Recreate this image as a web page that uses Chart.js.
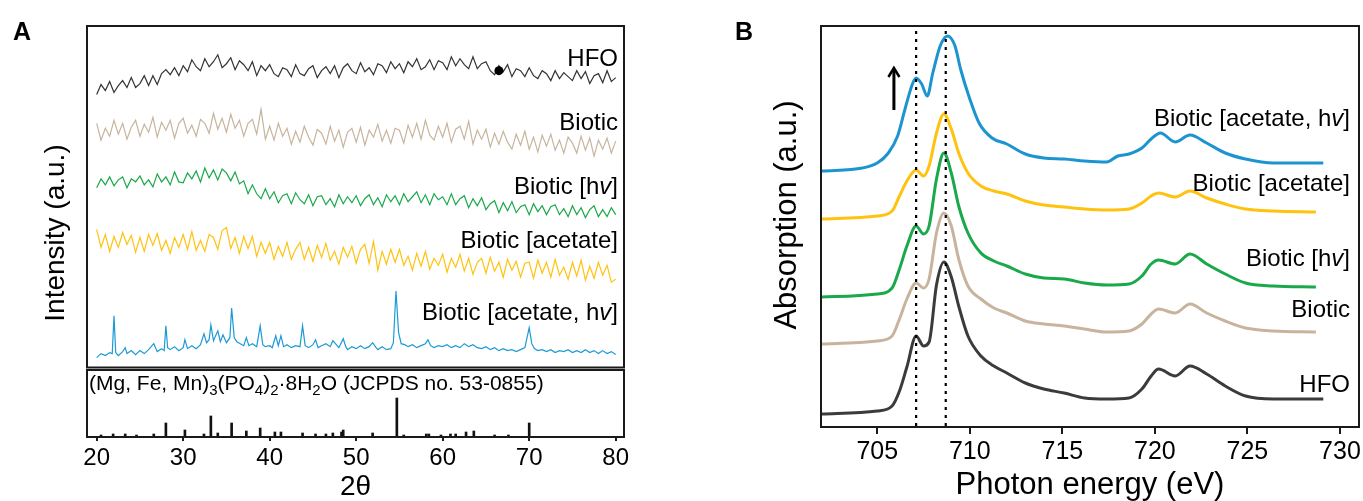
<!DOCTYPE html>
<html><head><meta charset="utf-8">
<script src="https://cdn.jsdelivr.net/npm/chart.js@4.4.1/dist/chart.umd.min.js"></script>
<style>
html,body{margin:0;padding:0;background:#fff;}
body{width:1363px;height:501px;position:relative;overflow:hidden;}
canvas{position:absolute;display:block;}
</style></head><body>
<canvas id="ca" width="640" height="372" style="left:0;top:0"></canvas>
<canvas id="cl" width="640" height="133" style="left:0;top:368px"></canvas>
<canvas id="cb" width="683" height="501" style="left:680px;top:0"></canvas>
<script>
// ---------- Panel A data (XRD) ----------
const twoTheta = [20,20.5,21,21.5,22,22.5,23,23.5,24,24.5,25,25.5,26,26.5,27,27.5,28,28.5,29,29.5,30,30.5,31,31.5,32,32.5,33,33.5,34,34.5,35,35.5,36,36.5,37,37.5,38,38.5,39,39.5,40,40.5,41,41.5,42,42.5,43,43.5,44,44.5,45,45.5,46,46.5,47,47.5,48,48.5,49,49.5,50,50.5,51,51.5,52,52.5,53,53.5,54,54.5,55,55.5,56,56.5,57,57.5,58,58.5,59,59.5,60,60.5,61,61.5,62,62.5,63,63.5,64,64.5,65,65.5,66,66.5,67,67.5,68,68.5,69,69.5,70,70.5,71,71.5,72,72.5,73,73.5,74,74.5,75,75.5,76,76.5,77,77.5,78,78.5,79,79.5,80];
const xrdHFO = [275,285,279,288,277,284,289,282,292,282, 286,294,284,294,285,296,300,295,302,294, 304,298,310,303,299,311,303,308,315,302, 306,312,300,309,305,299,308,294,304,299, 305,296,293,302,300,293,305,296,294,301, 304,292,299,303,296,304,292,302,306,299, 296,307,298,302,295,306,304,297,308,301, 306,297,308,303,311,300,303,310,300,309, 307,300,313,304,311,305,301,313,301,306, 308,299,295,304,298,305,293,301,299,293, 302,294,291,299,296,289,299,291,297,293, 289,299,291,298,286,294,296,287,299,288, 292];
const xrdBiotic = [246,229,241,233,249,235,246,230,242,249, 233,245,237,252,232,247,239,249,231,246, 251,236,244,233,250,246,236,256,240,251, 237,255,241,249,233,246,250,235,260,230, 243,229,246,233,241,225,238,227,243,232, 224,240,236,225,243,228,239,222,237,241, 227,242,224,239,232,245,228,239,226,241, 239,226,244,232,246,230,249,234,229,243, 232,246,227,240,243,230,248,225,239,230, 240,222,236,225,238,227,220,235,224,238, 220,232,217,234,223,235,219,229,216,232, 226,216,233,219,231,213,229,220,231,216, 228];
const xrdBioticHv = [181,190,184,192,183,189,192,181,190,187, 193,184,189,182,195,187,192,184,197,187, 186,196,190,198,187,201,191,199,189,200, 196,188,197,185,188,175,184,175,170,180, 170,177,166,173,175,165,176,169,165,174, 163,172,173,164,170,162,174,165,172,166, 173,163,170,174,164,171,162,174,167,173, 164,175,167,172,177,166,174,164,175,169, 172,164,175,164,170,173,161,170,163,171, 159,165,168,156,166,158,167,156,162,164, 154,165,157,163,154,162,164,154,160,152, 163,154,161,151,159,163,152,159,152,161, 154];
const xrdBioticAcetate = [139,121,134,117,132,121,136,124,133,116, 131,117,134,123,135,118,128,115,131,121, 134,119,137,118,128,117,134,131,119,138, 141,120,131,115,132,120,132,112,126,115, 126,109,122,112,126,109,119,126,109,121, 107,123,111,125,108,117,104,121,111,122, 105,119,124,105,127,98,117,104,119,106, 119,103,112,98,115,102,117,99,110,103, 114,96,110,101,114,97,110,94,106,110, 95,111,97,106,91,109,98,107,91,105, 106,90,108,95,106,91,109,93,101,89, 106,92,108,88,102,90,106,93,103,86, 89];
const blueTheta = [20,20.5,21,21.5,21.8,22,22.2,22.5,23,23.3,23.5,24,24.5,25,25.5,26,26.6,27,27.5,27.8,28,28.2,28.5,29,29.5,30,30.2,30.5,31,31.5,32,32.4,32.7,33,33.2,33.5,34,34.3,34.6,35,35.4,35.6,35.9,36.2,36.6,37,37.3,37.6,38,38.5,38.9,39.2,39.5,40,40.3,40.7,41,41.3,41.6,42,42.5,43,43.5,43.8,44.1,44.5,45,45.3,45.6,46,46.5,47,47.3,47.7,48,48.5,48.8,49,49.5,50,50.5,51,51.5,51.9,52.3,52.5,53,53.5,54,54.3,54.6,54.9,55.2,55.6,56,56.5,57,57.5,58,58.3,58.6,59,59.5,60,60.5,61,61.5,62,62.5,63,63.5,64,64.5,65,65.5,66,66.5,67,67.5,68,68.5,69,69.5,70,70.3,70.6,71,71.5,72,72.5,73,73.5,74,74.5,75,75.5,76,76.5,77,77.5,78,78.5,79,79.5,80];
const xrdBioticAcetateHv = [10,14,12,15,14,52,15,12,16,20,14,17,13,17,14,18,24,16,19,17,42,20,18,21,17,20,28,19,22,19,23,34,25,28,43,27,37,26,33,25,30,60,30,26,24,22,30,22,24,21,42,23,21,22,20,32,22,32,21,23,20,22,21,42,22,20,23,28,20,22,24,21,27,23,20,29,21,18,21,19,22,19,21,25,20,18,21,18,19,25,77,35,24,23,21,23,20,22,24,28,22,20,22,21,23,20,22,20,24,21,23,20,19,21,18,20,17,19,17,18,16,18,20,40,24,19,17,18,16,18,15,17,16,18,15,17,15,18,15,17,14,17,14,16,13];
const hfoMarkerTheta = [66.5];
const hfoMarkerValue = [299];
const refPeaks = [20.5,21.9,23.3,24.6,26.6,28.0,30.2,32.4,33.2,34.0,35.6,37.3,38.9,40.6,41.3,43.8,45.3,46.5,47.3,48.3,48.5,51.9,54.7,55.5,58.1,58.4,59.8,60.9,61.5,62.7,63.6,66.0,67.6,70.0];
const refHeights = [2,3,3,2,3,14,7,3,21,4,14,6,9,5,5,4,3,3,4,5,7,4,39,2,3,3,2,3,3,5,6,2,2,14];
const xTicksA = [20,30,40,50,60,70,80];
const seriesNames = ['HFO','Biotic','Biotic [hv]','Biotic [acetate]','Biotic [acetate, hv]'];

// ---------- Panel B data (XAS) ----------
const eGrid = [702.0,705.0,705.8,706.2,706.6,707.1,707.5,707.8,708.2,708.6,709.0,709.4,709.9,710.6,711.3,712.0,713.0,714.0,715.1,716.2,717.4,718.6,719.3,719.8,720.2,721.1,721.9,722.8,723.8,724.9,726.4];
const lastE = [729.1,728.7,728.7,728.7];
const xasHFO = [13,16,21,36,60,91,81,85,142,165,150,121,91,71,61,54,44,38,34,29,28,29,38,51,58,51,61,53,41,31,28,28];
const xasBiotic = [83,86,91,108,128,144,139,148,194,214,201,168,141,128,119,114,106,103,101,98,95,96,103,113,118,114,123,114,106,99,96,95];
const xasBioticHv = [130,133,139,158,181,201,193,201,248,274,254,221,194,174,166,161,153,149,148,144,142,143,151,163,167,163,173,163,153,144,141,140];
const xasBioticAcetate = [208,211,216,231,246,257,251,261,294,313,298,274,254,241,236,233,226,222,220,218,217,218,224,231,234,230,236,229,223,218,216,215];
const eBlue = [702.0,704.2,705.0,705.6,706.1,706.5,706.9,707.1,707.4,707.7,708.0,708.4,708.8,709.2,709.5,710.0,710.5,711.2,712.0,713.0,714.0,715.1,716.2,717.4,718.0,718.6,719.3,719.8,720.3,721.1,721.9,722.8,723.8,724.9,726.4,729.1];
const xasBioticAcetateHv = [256,259,264,274,291,318,343,349,343,331,354,381,391,381,358,328,304,289,283,273,269,268,266,265,271,273,279,288,294,285,292,284,274,268,264,264];
const dottedE = [707.1, 708.7];
const xTicksB = [705,710,715,720,725,730];

// ---------- styling ----------
const FONT = "'Liberation Sans', Arial, Helvetica, sans-serif";
Chart.defaults.font.family = FONT;
Chart.defaults.color = '#000';
const colA = ['#333333','#c8b49d','#19a84a','#ffc30f','#1c9ad6'];
const colB = ['#3b3b3b','#c8b49d','#19a84a','#ffc30f','#1c94d0'];
const FRAME = '#1a1a1a';

function pts(xs, ys){ return xs.map((x,i)=>({x:x, y:ys[i]})); }

function drawName(ctx, name, right, cy, size){
  const parts = [];
  const idx = name.indexOf('hv');
  if (idx >= 0){ parts.push([name.slice(0, idx+1), false]); parts.push(['v', true]); parts.push([name.slice(idx+2), false]); }
  else parts.push([name, false]);
  let total = 0;
  const widths = parts.map(p => { ctx.font = (p[1]?'italic ':'') + size + 'px ' + FONT; const w = ctx.measureText(p[0]).width; total += w; return w; });
  let x = right - total;
  ctx.textAlign = 'left'; ctx.textBaseline = 'alphabetic'; ctx.fillStyle = '#000';
  const base = cy + size*0.358;
  parts.forEach((p,i) => { ctx.font = (p[1]?'italic ':'') + size + 'px ' + FONT; ctx.fillText(p[0], x, base); x += widths[i]; });
}
function frame(chart){
  const a = chart.chartArea, ctx = chart.ctx;
  ctx.save(); ctx.strokeStyle = FRAME; ctx.lineWidth = 2;
  ctx.strokeRect(a.left, a.top, a.right - a.left, a.bottom - a.top);
  ctx.restore();
}
function vTitle(ctx, text, cx, cy, size){
  ctx.save(); ctx.translate(cx, cy); ctx.rotate(-Math.PI/2);
  ctx.font = size + 'px ' + FONT; ctx.fillStyle = '#000'; ctx.textAlign = 'center'; ctx.textBaseline = 'middle';
  ctx.fillText(text, 0, 0); ctx.restore();
}
function fixedAxis(h){ return function(scale){ scale.height = h; scale.paddingLeft = 0; scale.paddingRight = 0; }; }

// ---------- Panel A upper ----------
const labelYA = [57,121,185,239,311];
const decorA = { id:'decorA', afterDraw(chart){
  const ctx = chart.ctx; frame(chart);
  ctx.save();
  seriesNames.forEach((n,i) => drawName(ctx, n, 618, labelYA[i], 24));
  vTitle(ctx, 'Intensity (a.u.)', 56, 233, 28);
  ctx.font = 'bold 25px ' + FONT; ctx.fillStyle='#000'; ctx.textAlign='left'; ctx.textBaseline='alphabetic'; ctx.fillText('A', 13, 40);
  ctx.restore();
}};
const xrdSeries = [xrdHFO, xrdBiotic, xrdBioticHv, xrdBioticAcetate];
const dsA = xrdSeries.map((s,i) => ({ label: seriesNames[i], data: pts(twoTheta, s), borderColor: colA[i], borderWidth: 1.2, pointRadius: 0, tension: 0 }));
dsA.push({ label: seriesNames[4], data: pts(blueTheta, xrdBioticAcetateHv), borderColor: colA[4], borderWidth: 1.2, pointRadius: 0, tension: 0 });
dsA.unshift({ label: 'HFO marker', data: pts(hfoMarkerTheta, hfoMarkerValue), showLine: false, pointRadius: 4.5, pointBackgroundColor: '#000', pointBorderWidth: 0 });
new Chart(document.getElementById('ca'), {
  type: 'line',
  data: { datasets: dsA },
  options: {
    responsive: false, animation: false, events: [],
    layout: { padding: { left: 87, top: 26, right: 16, bottom: 2 } },
    plugins: { legend: { display: false }, tooltip: { enabled: false } },
    scales: { x: { type: 'linear', display: false, min: 18.88, max: 80.96 }, y: { display: false, min: 0, max: 344 } }
  },
  plugins: [decorA]
});

// ---------- Panel A lower (reference pattern) ----------
const decorL = { id:'decorL', afterDraw(chart){
  const ctx = chart.ctx; frame(chart);
  ctx.save(); ctx.fillStyle = '#000'; ctx.textAlign='left'; ctx.textBaseline='alphabetic';
  const big = '21px ' + FONT, small = '15px ' + FONT;
  const segs = [['(Mg, Fe, Mn)',0],['3',1],['(PO',0],['4',1],[')',0],['2',1],['\u00b78H',0],['2',1],['O (JCPDS no. 53-0855)',0]];
  let x = 89; const base = 22;
  segs.forEach(s => { ctx.font = s[1] ? small : big; ctx.fillText(s[0], x, base + (s[1] ? 5 : 0)); x += ctx.measureText(s[0]).width; });
  ctx.restore();
}};
new Chart(document.getElementById('cl'), {
  type: 'bar',
  data: { datasets: [{ label: 'JCPDS 53-0855', data: pts(refPeaks, refHeights), backgroundColor: '#111', borderWidth: 0, barThickness: 2 }] },
  options: {
    responsive: false, animation: false, events: [],
    layout: { padding: { left: 87, top: 2, right: 16, bottom: 0 } },
    plugins: { legend: { display: false }, tooltip: { enabled: false } },
    scales: {
      x: { type: 'linear', min: 18.88, max: 80.96, offset: false,
           afterBuildTicks: s => { s.ticks = xTicksA.map(v => ({ value: v })); },
           afterFit: fixedAxis(64),
           grid: { display: true, offset: false, drawOnChartArea: false, drawTicks: true, tickLength: 4, color: FRAME, lineWidth: 2 },
           border: { display: false },
           ticks: { autoSkip: false, maxRotation: 0, padding: 3, color: '#000', font: { size: 24 } },
           title: { display: true, text: '2\u03b8', color: '#000', font: { size: 28, lineHeight: 1 }, padding: { top: 0, bottom: 0 } } },
      y: { display: false, min: 0, max: 67 }
    }
  },
  plugins: [decorL]
});

// ---------- Panel B ----------
const labelOrderB = [4,3,2,1,0];
const labelYB = [117,182,257,308,383];
const decorB = { id:'decorB', afterDraw(chart){
  const ctx = chart.ctx; frame(chart);
  ctx.save();
  labelOrderB.forEach((si,k) => drawName(ctx, seriesNames[si], 670, labelYB[k], 24));
  vTitle(ctx, 'Absorption (a.u.)', 107, 215, 31);
  ctx.font = 'bold 25px ' + FONT; ctx.fillStyle='#000'; ctx.textAlign='left'; ctx.textBaseline='alphabetic'; ctx.fillText('B', 55, 40);
  const xs = chart.scales.x, ys = chart.scales.y;
  const ax = xs.getPixelForValue(705.9), y1 = ys.getPixelForValue(317), y2 = ys.getPixelForValue(359);
  ctx.strokeStyle = '#000'; ctx.lineWidth = 3; ctx.lineCap = 'butt';
  ctx.beginPath(); ctx.moveTo(ax, y1); ctx.lineTo(ax, y2 + 1); ctx.stroke();
  ctx.lineWidth = 2.5; ctx.lineJoin = 'miter';
  ctx.beginPath(); ctx.moveTo(ax - 5.5, y2 + 9); ctx.lineTo(ax, y2); ctx.lineTo(ax + 5.5, y2 + 9); ctx.stroke();
  ctx.restore();
}};
const xasSeries = [xasHFO, xasBiotic, xasBioticHv, xasBioticAcetate];
const dsB = [];
dottedE.forEach(e => dsB.push({ label: 'ref ' + e, data: [{x:e, y:1}, {x:e, y:400}], borderColor: '#000', borderWidth: 2.2, borderDash: [3,5], pointRadius: 0 }));
xasSeries.forEach((s,i) => dsB.push({ label: seriesNames[i], data: pts(eGrid.concat([lastE[i]]), s), borderColor: colB[i], borderWidth: 3, pointRadius: 0, cubicInterpolationMode: 'monotone' }));
dsB.push({ label: seriesNames[4], data: pts(eBlue, xasBioticAcetateHv), borderColor: colB[4], borderWidth: 3, pointRadius: 0, cubicInterpolationMode: 'monotone' });
new Chart(document.getElementById('cb'), {
  type: 'line',
  data: { datasets: dsB },
  options: {
    responsive: false, animation: false, events: [],
    layout: { padding: { left: 141, top: 26, right: 4, bottom: 0 } },
    plugins: { legend: { display: false }, tooltip: { enabled: false } },
    scales: {
      x: { type: 'linear', min: 701.96, max: 731.03,
           afterBuildTicks: s => { s.ticks = xTicksB.map(v => ({ value: v })); },
           afterFit: fixedAxis(74),
           grid: { display: true, drawOnChartArea: false, drawTicks: true, tickLength: 7, color: FRAME, lineWidth: 2 },
           border: { display: false },
           ticks: { autoSkip: false, maxRotation: 0, padding: 3, color: '#000', font: { size: 25 } },
           title: { display: true, text: 'Photon energy (eV)', color: '#000', font: { size: 31, lineHeight: 1 }, padding: { top: 0, bottom: 0 } } },
      y: { display: false, min: 0, max: 401 }
    }
  },
  plugins: [decorB]
});
</script>
</body></html>
